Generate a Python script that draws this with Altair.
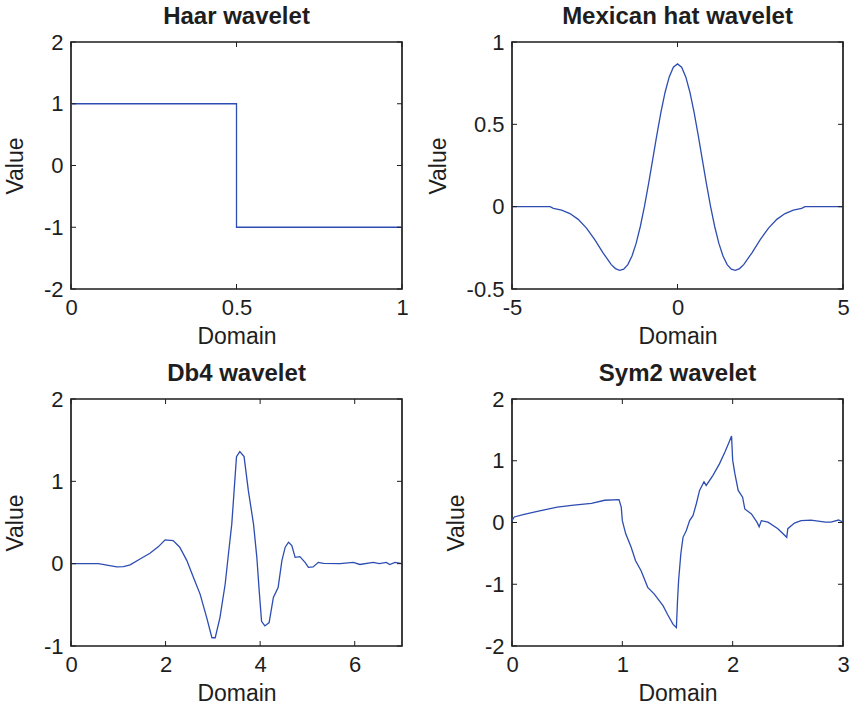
import altair as alt
import pandas as pd

# ---------------- data ----------------
haar_x = [0.0, 0.0, 0.5, 0.5, 1.0, 1.0]
haar_y = [0.0, 1.0, 1.0, -1.0, -1.0, 0.0]

mex_x = [-5.0, -4.5, -4.0, -3.85, -3.75, -3.5, -3.25, -3.0, -2.75, -2.5, -2.25, -2.0,
         -1.875, -1.75, -1.625, -1.5, -1.375, -1.25, -1.125, -1.0, -0.875, -0.75, -0.625,
         -0.5, -0.375, -0.25, -0.125, 0.0, 0.125, 0.25, 0.375, 0.5, 0.625, 0.75, 0.875,
         1.0, 1.125, 1.25, 1.375, 1.5, 1.625, 1.75, 1.875, 2.0, 2.25, 2.5, 2.75, 3.0,
         3.25, 3.5, 3.75, 3.85, 4.0, 4.5, 5.0]
mex_y = [0.0, 0.0, 0.0, 0.0, -0.010, -0.021, -0.042, -0.077, -0.130, -0.200, -0.280, -0.352,
         -0.376, -0.387, -0.380, -0.352, -0.300, -0.223, -0.122, 0.0, 0.139, 0.286, 0.435,
         0.574, 0.695, 0.788, 0.847, 0.867, 0.847, 0.788, 0.695, 0.574, 0.435, 0.286, 0.139,
         0.0, -0.122, -0.223, -0.300, -0.352, -0.380, -0.387, -0.376, -0.352, -0.280, -0.200,
         -0.130, -0.077, -0.042, -0.021, -0.010, 0.0, 0.0, 0.0, 0.0]

db4_x = [0.0, 0.58, 0.97, 1.11, 1.25, 1.46, 1.67, 1.85, 1.99, 2.16, 2.30, 2.45, 2.59, 2.73,
         2.87, 2.98, 3.05, 3.15, 3.26, 3.33, 3.40, 3.45, 3.50, 3.57, 3.66, 3.75, 3.86, 3.93,
         3.98, 4.03, 4.10, 4.19, 4.28, 4.38, 4.46, 4.53, 4.60, 4.67, 4.74, 4.84, 4.95, 5.02,
         5.12, 5.23, 5.34, 5.69, 5.97, 6.11, 6.39, 6.52, 6.67, 6.74, 6.85, 7.0]
db4_y = [0.0, 0.0, -0.04, -0.035, -0.015, 0.057, 0.126, 0.207, 0.289, 0.28, 0.20, 0.037,
         -0.167, -0.37, -0.655, -0.90, -0.90, -0.655, -0.25, 0.12, 0.48, 0.89, 1.30, 1.36,
         1.30, 0.89, 0.48, 0.077, -0.33, -0.70, -0.756, -0.716, -0.41, -0.29, 0.037, 0.20,
         0.26, 0.22, 0.077, 0.085, 0.016, -0.045, -0.04, 0.016, 0.004, 0.0, 0.016, -0.01,
         0.016, 0.0, 0.016, -0.01, 0.016, 0.0]

sym_x = [0.0, 0.02, 0.11, 0.23, 0.41, 0.56, 0.72, 0.84, 0.97, 0.99, 1.00, 1.03, 1.08, 1.12,
         1.17, 1.23, 1.29, 1.37, 1.41, 1.46, 1.49, 1.50, 1.51, 1.53, 1.55, 1.58, 1.61, 1.64,
         1.67, 1.70, 1.74, 1.76, 1.82, 1.88, 1.93, 1.97, 1.99, 2.00, 2.02, 2.05, 2.09, 2.11,
         2.17, 2.22, 2.24, 2.26, 2.32, 2.41, 2.49, 2.50, 2.56, 2.62, 2.71, 2.84, 2.89, 2.96, 3.0]
sym_y = [0.03, 0.09, 0.13, 0.18, 0.25, 0.28, 0.31, 0.36, 0.37, 0.25, 0.03, -0.18, -0.40, -0.62,
         -0.78, -1.05, -1.16, -1.35, -1.49, -1.65, -1.70, -1.27, -0.94, -0.51, -0.24, -0.13,
         0.03, 0.11, 0.30, 0.52, 0.66, 0.60, 0.76, 0.95, 1.14, 1.31, 1.40, 1.01, 0.79, 0.52,
         0.41, 0.22, 0.14, 0.005, -0.07, 0.03, 0.005, -0.10, -0.24, -0.10, -0.01, 0.03, 0.04,
         0.005, 0.005, 0.04, 0.005]

titles = ["Haar wavelet", "Mexican hat wavelet", "Db4 wavelet", "Sym2 wavelet"]
x_domains = [[0, 1], [-5, 5], [0, 7], [0, 3]]
y_domains = [[-2, 2], [-0.5, 1], [-1, 2], [-2, 2]]
x_ticks = [[0, 0.5, 1], [-5, 0, 5], [0, 2, 4, 6], [0, 1, 2, 3]]
y_ticks = [[-2, -1, 0, 1, 2], [-0.5, 0, 0.5, 1], [-1, 0, 1, 2], [-2, -1, 0, 1, 2]]
series = [(haar_x, haar_y), (mex_x, mex_y), (db4_x, db4_y), (sym_x, sym_y)]

# ---------------- style ----------------
W, H = 331, 247
BLUE = "#2d4db2"
FONT = "Liberation Sans"
TICK = 5
INK = "#1e1e1e"


def panel(title, xs_, ys_, xdom, ydom, xt, yt):
    df = pd.DataFrame({"x": xs_, "y": ys_, "i": list(range(len(xs_)))})
    xsc = alt.Scale(domain=xdom, nice=False, zero=False)
    ysc = alt.Scale(domain=ydom, nice=False, zero=False)
    xax = alt.Axis(values=xt, title="Domain", labelExpr="toString(datum.value)")
    yax = alt.Axis(values=yt, title="Value", labelExpr="toString(datum.value)")
    line = alt.Chart(df).mark_line(color=BLUE, strokeWidth=1.3, clip=True).encode(
        x=alt.X("x:Q", scale=xsc, axis=xax),
        y=alt.Y("y:Q", scale=ysc, axis=yax),
        order="i:Q",
    )
    xdf = pd.DataFrame({"t": xt})
    ydf = pd.DataFrame({"t": yt})
    tick_bottom = alt.Chart(xdf).mark_rule(color=INK, strokeWidth=1).encode(
        x=alt.X("t:Q", scale=xsc, axis=xax), y=alt.value(H), y2=alt.value(H - TICK))
    tick_top = alt.Chart(xdf).mark_rule(color=INK, strokeWidth=1).encode(
        x=alt.X("t:Q", scale=xsc, axis=xax), y=alt.value(0), y2=alt.value(TICK))
    tick_left = alt.Chart(ydf).mark_rule(color=INK, strokeWidth=1).encode(
        y=alt.Y("t:Q", scale=ysc, axis=yax), x=alt.value(0), x2=alt.value(TICK))
    tick_right = alt.Chart(ydf).mark_rule(color=INK, strokeWidth=1).encode(
        y=alt.Y("t:Q", scale=ysc, axis=yax), x=alt.value(W), x2=alt.value(W - TICK))
    return alt.layer(line, tick_bottom, tick_top, tick_left, tick_right).properties(
        width=W, height=H,
        title=alt.TitleParams(title, fontSize=24, fontWeight="bold", font=FONT,
                              color=INK, offset=2),
    )


panels = [panel(titles[k], series[k][0], series[k][1], x_domains[k], y_domains[k],
                x_ticks[k], y_ticks[k]) for k in range(4)]

chart = alt.concat(*panels, columns=2, spacing={"column": 17, "row": 12}).properties(
    padding={"left": 3, "top": 4, "right": 0, "bottom": 0},
    background="white",
).configure_view(
    stroke=INK, strokeWidth=1.7,
).configure_axis(
    labelFont=FONT, titleFont=FONT, labelFontSize=22, titleFontSize=23,
    titleFontWeight="normal", labelColor=INK, titleColor=INK,
    ticks=False, domain=False, grid=False,
    labelFlush=False, labelOverlap=False,
).configure_axisX(
    labelPadding=8, titlePadding=7,
).configure_axisY(
    labelPadding=8, titlePadding=16,
)

chart.save("out.html", embed_options={"renderer": "svg", "actions": False})
